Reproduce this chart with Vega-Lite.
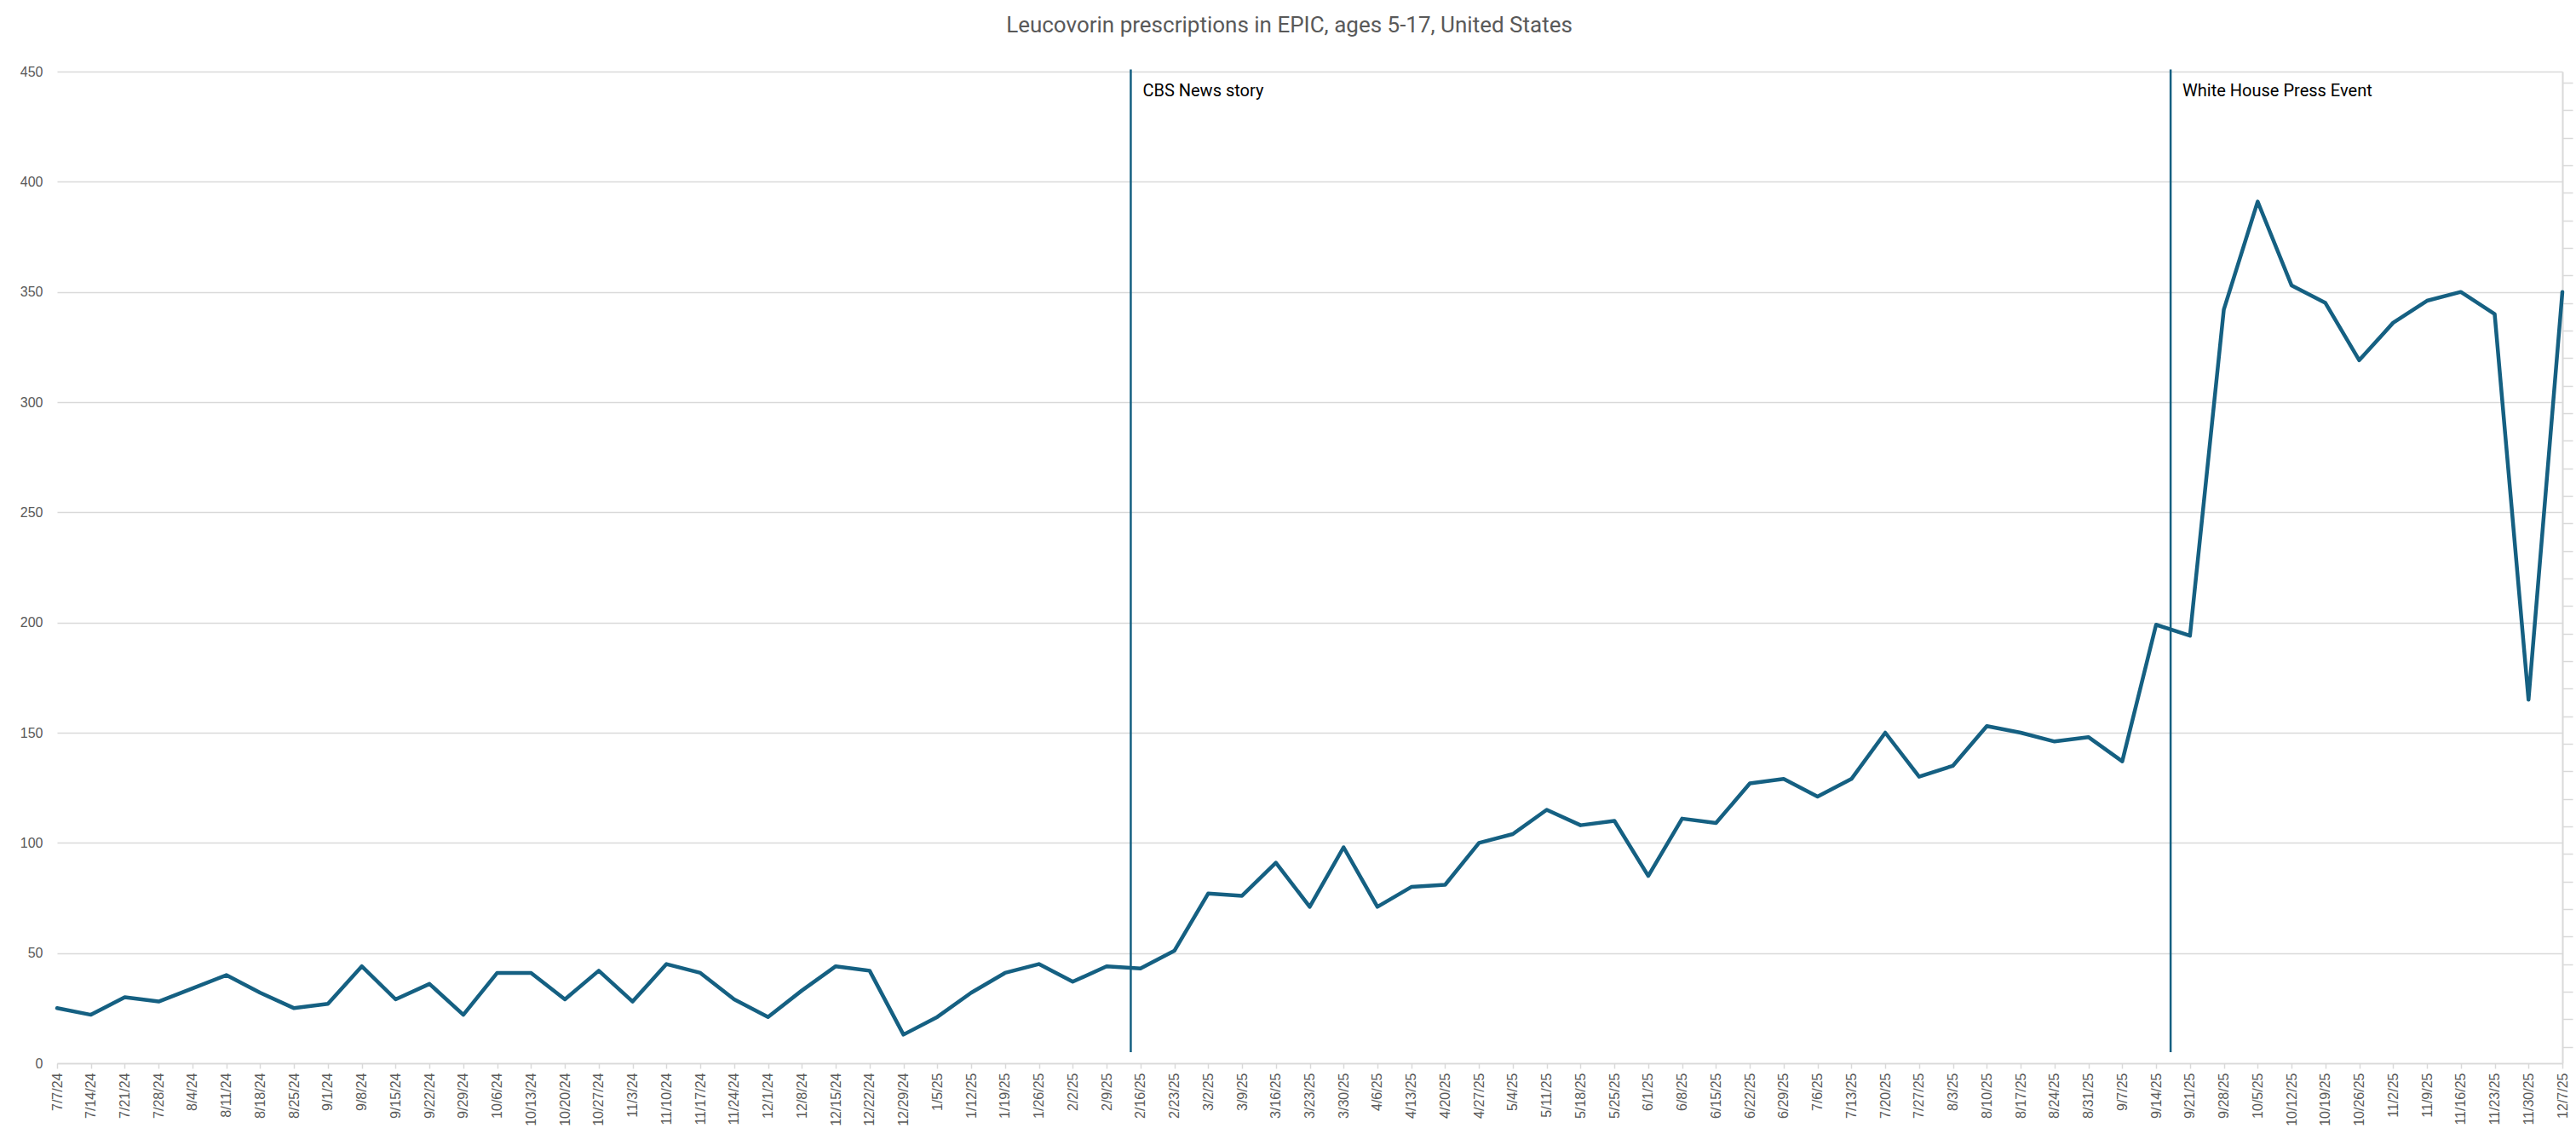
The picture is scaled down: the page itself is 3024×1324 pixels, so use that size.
{
  "$schema": "https://vega.github.io/schema/vega-lite/v6.json",
  "autosize": {"type": "none"},
  "padding": {"left": 67, "top": 84, "right": 16, "bottom": 76},
  "width": 2941,
  "height": 1164,
  "background": "white",
  "title": {
    "text": "Leucovorin prescriptions in EPIC, ages 5-17, United States",
    "font": "Roboto",
    "fontSize": 26,
    "fontWeight": "normal",
    "color": "#595959",
    "anchor": "middle",
    "baseline": "alphabetic",
    "dx": -24,
    "offset": 12
  },
  "datasets": {
    "series": [
      {"date": "2024-07-07", "count": 25},
      {"date": "2024-07-14", "count": 22},
      {"date": "2024-07-21", "count": 30},
      {"date": "2024-07-28", "count": 28},
      {"date": "2024-08-04", "count": 34},
      {"date": "2024-08-11", "count": 40},
      {"date": "2024-08-18", "count": 32},
      {"date": "2024-08-25", "count": 25},
      {"date": "2024-09-01", "count": 27},
      {"date": "2024-09-08", "count": 44},
      {"date": "2024-09-15", "count": 29},
      {"date": "2024-09-22", "count": 36},
      {"date": "2024-09-29", "count": 22},
      {"date": "2024-10-06", "count": 41},
      {"date": "2024-10-13", "count": 41},
      {"date": "2024-10-20", "count": 29},
      {"date": "2024-10-27", "count": 42},
      {"date": "2024-11-03", "count": 28},
      {"date": "2024-11-10", "count": 45},
      {"date": "2024-11-17", "count": 41},
      {"date": "2024-11-24", "count": 29},
      {"date": "2024-12-01", "count": 21},
      {"date": "2024-12-08", "count": 33},
      {"date": "2024-12-15", "count": 44},
      {"date": "2024-12-22", "count": 42},
      {"date": "2024-12-29", "count": 13},
      {"date": "2025-01-05", "count": 21},
      {"date": "2025-01-12", "count": 32},
      {"date": "2025-01-19", "count": 41},
      {"date": "2025-01-26", "count": 45},
      {"date": "2025-02-02", "count": 37},
      {"date": "2025-02-09", "count": 44},
      {"date": "2025-02-16", "count": 43},
      {"date": "2025-02-23", "count": 51},
      {"date": "2025-03-02", "count": 77},
      {"date": "2025-03-09", "count": 76},
      {"date": "2025-03-16", "count": 91},
      {"date": "2025-03-23", "count": 71},
      {"date": "2025-03-30", "count": 98},
      {"date": "2025-04-06", "count": 71},
      {"date": "2025-04-13", "count": 80},
      {"date": "2025-04-20", "count": 81},
      {"date": "2025-04-27", "count": 100},
      {"date": "2025-05-04", "count": 104},
      {"date": "2025-05-11", "count": 115},
      {"date": "2025-05-18", "count": 108},
      {"date": "2025-05-25", "count": 110},
      {"date": "2025-06-01", "count": 85},
      {"date": "2025-06-08", "count": 111},
      {"date": "2025-06-15", "count": 109},
      {"date": "2025-06-22", "count": 127},
      {"date": "2025-06-29", "count": 129},
      {"date": "2025-07-06", "count": 121},
      {"date": "2025-07-13", "count": 129},
      {"date": "2025-07-20", "count": 150},
      {"date": "2025-07-27", "count": 130},
      {"date": "2025-08-03", "count": 135},
      {"date": "2025-08-10", "count": 153},
      {"date": "2025-08-17", "count": 150},
      {"date": "2025-08-24", "count": 146},
      {"date": "2025-08-31", "count": 148},
      {"date": "2025-09-07", "count": 137},
      {"date": "2025-09-14", "count": 199},
      {"date": "2025-09-21", "count": 194},
      {"date": "2025-09-28", "count": 342},
      {"date": "2025-10-05", "count": 391},
      {"date": "2025-10-12", "count": 353},
      {"date": "2025-10-19", "count": 345},
      {"date": "2025-10-26", "count": 319},
      {"date": "2025-11-02", "count": 336},
      {"date": "2025-11-09", "count": 346},
      {"date": "2025-11-16", "count": 350},
      {"date": "2025-11-23", "count": 340},
      {"date": "2025-11-30", "count": 165},
      {"date": "2025-12-07", "count": 350}
    ],
    "events": [
      {"date": "2025-02-14", "label": "CBS News story"},
      {"date": "2025-09-17", "label": "White House Press Event"}
    ]
  },
  "layer": [
    {
      "data": {"name": "series"},
      "mark": {"type": "line", "color": "#156082", "strokeWidth": 4.5, "strokeJoin": "round", "strokeCap": "round"},
      "encoding": {
        "x": {
          "field": "date",
          "type": "temporal",
          "scale": {
            "type": "utc",
            "nice": false,
            "domain": [
              {"year": 2024, "month": 7, "date": 7, "utc": true},
              {"year": 2025, "month": 12, "date": 7, "utc": true}
            ]
          },
          "axis": {
            "title": null,
            "tickCount": {"interval": "week", "step": 1},
            "labelExpr": "utcFormat(datum.value, '%-m/%-d/%y')",
            "labelAngle": 270,
            "labelFlush": false,
            "labelOverlap": false,
            "labelFont": "Liberation Sans",
            "labelFontSize": 16,
            "labelColor": "#595959",
            "labelPadding": 5,
            "grid": false,
            "domainColor": "#d9d9d9",
            "domainWidth": 1.5,
            "tickColor": "#d9d9d9",
            "tickWidth": 1.5,
            "tickSize": 6
          }
        },
        "y": {
          "field": "count",
          "type": "quantitative",
          "scale": {"domain": [0, 450], "nice": false},
          "axis": {
            "title": null,
            "orient": "left",
            "values": [0, 50, 100, 150, 200, 250, 300, 350, 400, 450],
            "grid": true,
            "gridColor": "#d9d9d9",
            "gridWidth": 1.5,
            "domain": false,
            "ticks": false,
            "labelPadding": 17,
            "labelFont": "Liberation Sans",
            "labelFontSize": 16,
            "labelColor": "#595959"
          }
        }
      }
    },
    {
      "data": {"name": "events"},
      "mark": {"type": "rule", "color": "#156082", "strokeWidth": 2.5},
      "encoding": {
        "x": {"field": "date", "type": "temporal"},
        "y": {
          "datum": 451,
          "type": "quantitative",
          "axis": {
            "title": null,
            "orient": "right",
            "values": [445, 432.5, 420, 407.5, 395, 382.5, 370, 357.5, 345, 332.5, 320, 307.5, 295, 282.5, 270, 257.5, 245, 232.5, 220, 207.5, 195, 182.5, 170, 157.5, 145, 132.5, 120, 107.5, 95, 82.5, 70, 57.5, 45, 32.5, 20, 7.5],
            "labels": false,
            "grid": false,
            "domain": true,
            "domainColor": "#d9d9d9",
            "domainWidth": 2,
            "tickColor": "#d9d9d9",
            "tickWidth": 1.5,
            "tickSize": 12
          }
        },
        "y2": {"datum": 5}
      }
    },
    {
      "data": {"name": "events"},
      "mark": {"type": "text", "align": "left", "baseline": "alphabetic", "dx": 14, "dy": 29, "font": "Roboto", "fontSize": 20, "color": "#000000"},
      "encoding": {
        "x": {"field": "date", "type": "temporal"},
        "y": {"datum": 450, "type": "quantitative", "axis": null},
        "text": {"field": "label", "type": "nominal"}
      }
    }
  ],
  "resolve": {"axis": {"y": "independent"}},
  "config": {
    "view": {"stroke": null}
  }
}
